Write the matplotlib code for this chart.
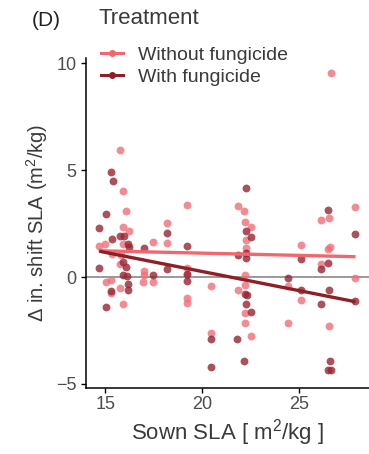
import matplotlib.pyplot as plt
import numpy as np
from matplotlib.lines import Line2D

plt.rcParams["font.family"] = ["Liberation Sans", "DejaVu Sans"]
plt.rcParams["mathtext.fontset"] = "custom"
plt.rcParams["mathtext.rm"] = "Liberation Sans"
plt.rcParams["mathtext.it"] = "Liberation Sans:italic"

# sown SLA vs shift in SLA, per treatment
x_without = [15.78, 15.9, 16.09, 19.2, 15.9, 16.2, 18.2, 18.2, 14.65, 15.0, 15.9, 17.47,
             15.35, 15.8, 15.77, 16.98, 16.98, 19.2, 19.2, 15.03, 15.3, 16.95, 17.47, 20.44,
             15.74, 15.31, 19.2, 19.2, 15.9, 21.85, 22.17, 22.2, 22.5, 22.25, 22.25, 22.2,
             22.2, 21.85, 22.2, 22.2, 24.4, 24.4, 25.1, 25.1, 26.1, 26.54, 26.5, 26.6,
             26.1, 26.54, 27.9, 27.9, 26.66, 20.44, 22.5]
y_without = [5.93, 4.05, 3.11, 3.38, 2.33, 2.17, 2.52, 1.58, 1.44, 1.53, 1.55, 1.63,
             1.08, 1.05, 0.60, 0.30, 0.08, 0.41, 0.08, -0.22, -0.13, -0.25, -0.22, -0.44,
             -0.52, -0.75, -1.0, -1.19, -1.27, 3.32, 3.08, 2.6, 2.36, 1.75, 1.35, 0.09,
             -0.38, -0.61, -1.69, -2.13, -2.16, -0.41, 1.5, -1.08, 2.68, 2.75, 1.31, 1.39,
             0.61, -2.31, 3.27, -0.02, 9.53, -2.63, -2.75]

x_with = [15.31, 15.38, 15.03, 14.69, 18.2, 15.35, 15.78, 15.95, 16.17, 16.2, 16.98, 19.2,
          14.69, 15.9, 16.04, 17.47, 15.9, 16.1, 18.2, 19.2, 16.17, 19.2, 16.17, 15.31,
          15.03, 22.25, 22.25, 22.5, 22.25, 21.85, 22.25, 22.2, 22.3, 22.25, 22.5, 24.4,
          25.1, 25.1, 26.5, 26.5, 26.1, 26.54, 26.1, 27.9, 27.9, 20.44, 21.8, 22.17,
          20.44, 26.6, 26.5, 26.65]
y_with = [4.92, 4.52, 2.96, 2.28, 2.05, 1.78, 1.94, 1.91, 1.55, 1.40, 1.38, 1.47,
          0.41, 0.69, 0.45, 0.11, 0.08, 0.05, 0.38, 0.14, -0.33, -0.2, -0.6, -0.64,
          -1.38, 4.18, 2.17, 1.86, 1.13, 1.03, 0.88, -0.77, -0.83, -1.27, -1.63, -0.06,
          0.85, -0.61, 3.16, 0.66, 0.38, -0.61, -1.27, 2.0, -1.11, -2.91, -2.91, -3.93,
          -4.19, -3.93, -4.37, -4.37]

# linear fits (intercept, slope)
fit_without = (1.54, -0.021)
fit_with = (3.84, -0.179)

col_without = "#F2666E"
col_with = "#8E1F26"

fig = plt.figure(figsize=(3.69, 4.54), dpi=100)
ax = fig.add_axes([0.233, 0.145, 0.767, 0.727])

ax.axhline(0, color="#9A9A9A", lw=1.4, zorder=1)

ax.scatter(x_without, y_without, s=32, color="#F06E78", alpha=0.8, lw=0, zorder=2)
ax.scatter(x_with, y_with, s=32, color="#962632", alpha=0.8, lw=0, zorder=2)

for xs, (b0, b1), c in [(x_without, fit_without, col_without), (x_with, fit_with, col_with)]:
    xx = np.array([min(xs), max(xs)])
    ax.plot(xx, b0 + b1 * xx, color=c, lw=2.4, solid_capstyle="butt", zorder=3)

ax.set_xlim(14.0, 28.6)
ax.set_ylim(-5.2, 10.25)
ax.set_xticks([15, 20, 25])
ax.set_yticks([-5, 0, 5, 10])
for s in ["top", "right"]:
    ax.spines[s].set_visible(False)
for s in ["left", "bottom"]:
    ax.spines[s].set_linewidth(1.1)
ax.tick_params(length=3.5, width=1.0, labelsize=13, labelcolor="#4D4D4D", pad=2)
ax.tick_params(axis="y", pad=3.5)

ax.set_xlabel("Sown SLA [ m$^{\\mathrm{2}}$/kg ]", fontsize=16, color="#3A3A3A", labelpad=3)
ax.set_ylabel("\u0394 in. shift SLA (m$^{\\mathrm{2}}$/kg)", fontsize=14.5, color="#3A3A3A", labelpad=4)

handles = [
    Line2D([], [], color=col_without, lw=2.2, marker="o", ms=4, label="Without fungicide"),
    Line2D([], [], color=col_with, lw=2.2, marker="o", ms=4, label="With fungicide"),
]
fig.text(0.266, 0.96, "Treatment", fontsize=16, color="#3A3A3A", va="center")
fig.legend(handles=handles, loc="upper left",
           bbox_to_anchor=(0.248, 0.92), frameon=False, fontsize=14,
           handlelength=1.1, handletextpad=0.8, labelspacing=0.25,
           borderpad=0.0, labelcolor="#3A3A3A")
fig.text(0.087, 0.955, "(D)", fontsize=15, color="#222222", va="center")

fig.savefig("out.png", dpi=100)
